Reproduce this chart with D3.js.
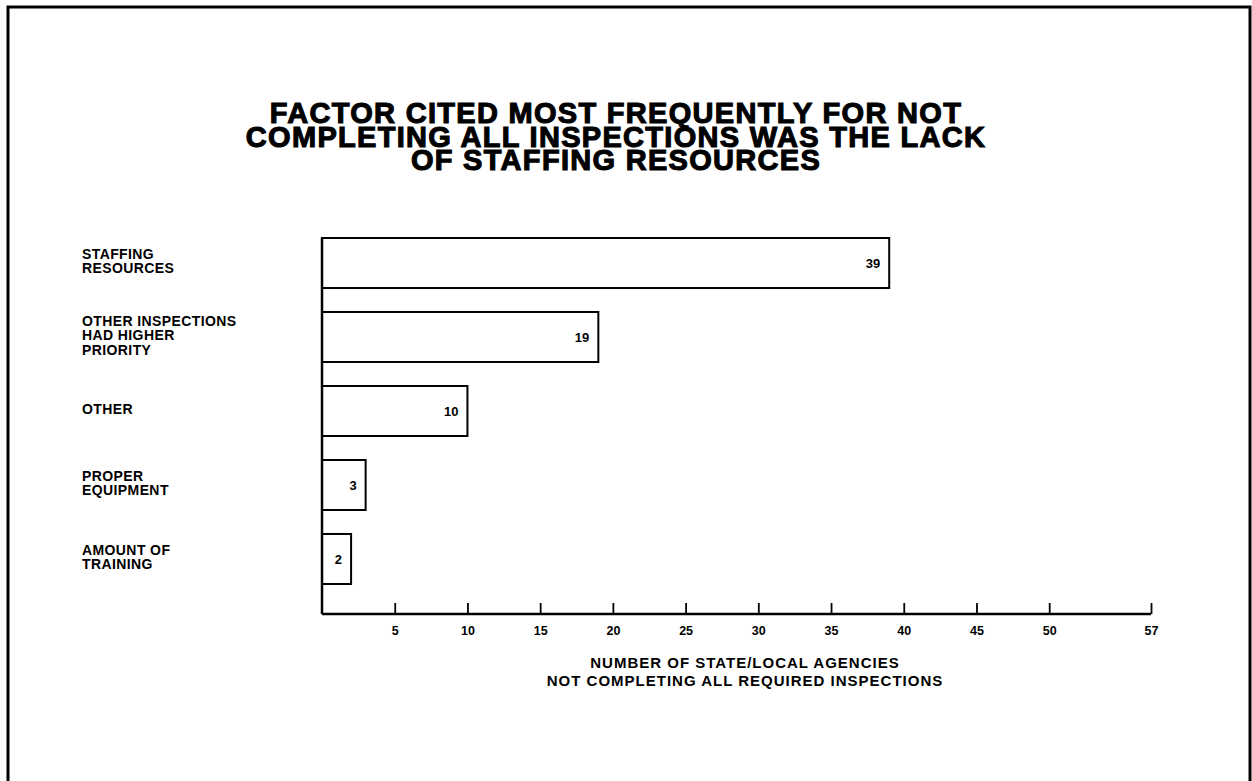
<!DOCTYPE html>
<html>
<head>
<meta charset="utf-8">
<script src="https://cdn.jsdelivr.net/npm/d3@7"></script>
<style>
  body { margin: 0; background: #fff; }
  svg { display: block; font-family: "Liberation Sans", Arial, sans-serif; }
</style>
</head>
<body>
<svg id="chart"></svg>
<script>
const titleLines = [
    "FACTOR CITED MOST FREQUENTLY FOR NOT",
    "COMPLETING ALL INSPECTIONS WAS THE LACK",
    "OF STAFFING RESOURCES"
];
const categories = [
    ["STAFFING", "RESOURCES"],
    ["OTHER INSPECTIONS", "HAD HIGHER", "PRIORITY"],
    ["OTHER"],
    ["PROPER", "EQUIPMENT"],
    ["AMOUNT OF", "TRAINING"]
];
const values = [39, 19, 10, 3, 2];
const tickValues = [5, 10, 15, 20, 25, 30, 35, 40, 45, 50, 57];
const axisTitle = ["NUMBER OF STATE/LOCAL AGENCIES", "NOT COMPLETING ALL REQUIRED INSPECTIONS"];

const width = 1252;
const height = 781;

const svg = d3.select("#chart")
    .attr("width", width)
    .attr("height", height);

// page frame
svg.append("rect")
    .attr("x", 8)
    .attr("y", 7)
    .attr("width", 1242)
    .attr("height", 800)
    .style("fill", "none")
    .style("stroke", "#000")
    .style("stroke-width", 3);

// title
svg.append("text")
    .attr("x", 616)
    .attr("y", 123)
    .attr("text-anchor", "middle")
    .style("font-size", "29px")
    .style("font-weight", "bold")
    .style("letter-spacing", "1.3px")
    .style("stroke", "#000")
    .style("stroke-width", 1.1)
    .selectAll("tspan")
    .data(titleLines)
    .join("tspan")
    .attr("x", 616)
    .attr("dy", (d, i) => i === 0 ? 0 : 23.5)
    .text(d => d);

const x = d3.scaleLinear()
    .domain([0, 57])
    .range([322, 1151]);

const keys = categories.map(c => c.join(" "));
const y = d3.scaleBand()
    .domain(keys)
    .range([238, 584])
    .paddingInner(0.324)
    .paddingOuter(0);

const baseY = 614;

// bars
const bars = svg.append("g");
bars.selectAll("rect")
    .data(values)
    .join("rect")
    .attr("x", x(0))
    .attr("y", (d, i) => y(keys[i]))
    .attr("width", d => x(d) - x(0))
    .attr("height", y.bandwidth())
    .style("fill", "#fff")
    .style("stroke", "#000")
    .style("stroke-width", 2);

bars.selectAll("text")
    .data(values)
    .join("text")
    .attr("x", d => x(d) - 9)
    .attr("y", (d, i) => y(keys[i]) + y.bandwidth() / 2)
    .attr("dy", "0.36em")
    .attr("text-anchor", "end")
    .style("font-size", "13px")
    .style("font-weight", "bold")
    .text(d => d);

// category labels
const labels = svg.append("g");
categories.forEach((lines, i) => {
    const cy = y(keys[i]) + y.bandwidth() / 2 - 2;
    const lineH = 14.5;
    const t = labels.append("text")
        .attr("x", 82)
        .attr("y", cy - (lines.length - 1) * lineH / 2)
        .style("font-size", "14px")
        .style("font-weight", "bold")
        .style("letter-spacing", "0.4px");
    lines.forEach((l, j) => {
        t.append("tspan")
            .attr("x", 82)
            .attr("dy", j === 0 ? "0.36em" : lineH)
            .text(l);
    });
});

// vertical axis line
svg.append("line")
    .attr("x1", x(0))
    .attr("x2", x(0))
    .attr("y1", 238)
    .attr("y2", baseY)
    .style("stroke", "#000")
    .style("stroke-width", 2.5);

// x axis
const xAxis = d3.axisBottom(x)
    .tickValues(tickValues)
    .tickSizeInner(-11)
    .tickSizeOuter(0)
    .tickPadding(12)
    .tickFormat(d3.format("d"));

const gx = svg.append("g")
    .attr("transform", `translate(0,${baseY})`)
    .call(xAxis);

gx.select(".domain")
    .attr("d", `M${x(0)},0H${x(57)}`)
    .style("stroke-width", 2.5);
gx.selectAll(".tick line").style("stroke-width", 1.8);
gx.selectAll(".tick text")
    .style("font-size", "12.5px")
    .style("font-weight", "bold")
    .style("font-family", "'Liberation Sans', Arial, sans-serif")
    .style("fill", "#000");

// axis title
svg.append("text")
    .attr("x", 745)
    .attr("y", 668)
    .attr("text-anchor", "middle")
    .style("font-size", "15px")
    .style("font-weight", "bold")
    .style("letter-spacing", "1px")
    .selectAll("tspan")
    .data(axisTitle)
    .join("tspan")
    .attr("x", 745)
    .attr("dy", (d, i) => i === 0 ? 0 : 18)
    .text(d => d);
</script>
</body>
</html>
